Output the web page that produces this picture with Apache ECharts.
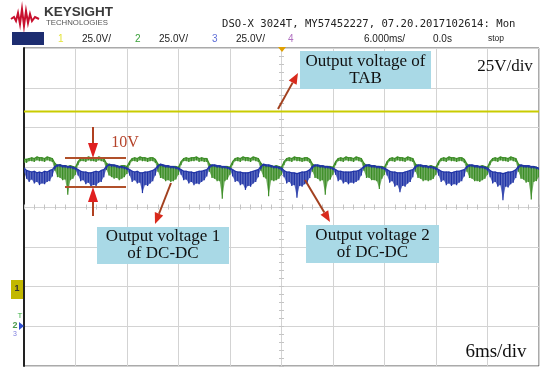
<!DOCTYPE html>
<html><head><meta charset="utf-8">
<script src="https://cdn.jsdelivr.net/npm/echarts@6/dist/echarts.min.js"></script>
<style>html,body{margin:0;padding:0;background:#fff}#c{width:550px;height:378px}</style>
</head><body><div id="c"></div>
<script>
// ---- data (volts) ----
const SAMPLE_MS = 0.3;      // sample spacing of the ch2/ch3 peak-detect envelopes
const CH1_SAMPLE_MS = 6;    // sample spacing for ch1
const CH1_OFFSET = 50;      // ground reference of ch1 on screen (V)
const CH2_OFFSET = 26;      // ground reference of ch2 on screen (V)
const CH3_OFFSET = 25;      // ground reference of ch3 on screen (V)
const timeDivs = [0, 6, 12, 18, 24, 30, 36, 42, 48, 54, 60];
const voltDivs = [0, 25, 50, 75, 100, 125, 150, 175, 200];

const ch1TAB = [110, 110, 110, 110, 110, 110, 110, 110, 110, 110, 110];

// ch2: output voltage 1 of DC-DC (upper / lower envelope)
const ch2Upper = [
  104, 104, 104.5, 105, 104.5, 105.5, 105, 105, 104.5, 105.5, 105, 104.5, 101.5, 100, 100.5, 99.5, 100, 99.5, 100, 99.5,
  99, 102.5, 104.5, 105, 104.5, 105.5, 105, 105, 104.5, 105.5, 105, 104.5, 101.5, 100.5, 100.5, 100, 100, 99.5, 100, 100,
  99.5, 102.5, 104.5, 105, 104.5, 105.5, 105, 105, 104.5, 105, 105, 104, 101, 100, 100, 99.5, 99.5, 99, 99.5, 99.5,
  99, 102.5, 104.5, 105, 104.5, 105, 105, 105.5, 104.5, 105, 104.5, 104.5, 101, 100, 100, 99.5, 99.5, 99, 99.5, 99.5,
  99, 102.5, 104.5, 105, 104.5, 105.5, 105, 105, 104.5, 105.5, 105, 104.5, 101.5, 100, 100, 99.5, 100, 99.5, 100, 99.5,
  99, 102.5, 104.5, 105, 104.5, 105.5, 105, 105, 104.5, 105, 105, 104, 101, 100, 100, 99.5, 99.5, 99.5, 99.5, 99.5,
  99, 102.5, 104.5, 105, 104.5, 105.5, 105, 105, 104.5, 105.5, 105, 104.5, 101.5, 100, 100.5, 99.5, 100, 99.5, 99.5, 99.5,
  99, 102.5, 104.5, 105, 104.5, 105.5, 105, 105, 104.5, 105.5, 105, 104.5, 101, 100, 100, 99.5, 100, 99.5, 100, 99.5,
  99, 102.5, 104.5, 105, 104.5, 105.5, 105, 105, 104.5, 105, 105, 104, 101, 100, 100, 99.5, 99.5, 99.5, 100, 99.5,
  99, 102.5, 104.5, 105, 104.5, 105.5, 105, 105, 104.5, 105.5, 105, 104.5, 101, 100, 100, 99.5, 99.5, 99, 99.5, 99,
  98
];
const ch2Lower = [
  102, 102, 103, 103, 102.5, 103.5, 103, 103, 102.5, 103.5, 103, 102.5, 97, 93, 92.5, 91, 91.5, 82, 91, 92,
  94.5, 100.5, 103, 103, 102.5, 103.5, 103, 103, 102.5, 103.5, 103, 102.5, 97.5, 94, 93, 92, 92.5, 91, 92, 93,
  95, 100.5, 103, 103, 102.5, 103.5, 103, 103, 102.5, 103, 103, 102, 96.5, 92.5, 92, 90.5, 91, 90, 90.5, 91.5,
  94.5, 100.5, 103, 103, 102.5, 103, 103, 103.5, 102.5, 103, 102.5, 102.5, 96.5, 92.5, 92, 90.5, 90.5, 79.5, 90.5, 91.5,
  94.5, 100.5, 103, 103, 102.5, 103.5, 103, 103, 102.5, 103.5, 103, 102.5, 97, 93, 92, 81, 91, 90.5, 91, 92,
  94.5, 100.5, 103, 103, 102.5, 103.5, 103, 103, 102.5, 103, 103, 102, 96.5, 92.5, 92, 90.5, 91, 82, 90.5, 91.5,
  94.5, 100.5, 103, 103, 102.5, 103.5, 103, 103, 102.5, 103.5, 103, 102.5, 97, 92.5, 92.5, 91, 91, 90.5, 85.5, 92,
  94.5, 100.5, 103, 103, 102.5, 103.5, 103, 103, 102.5, 103.5, 103, 102.5, 96.5, 92.5, 92, 90.5, 91, 90.5, 91, 92,
  94.5, 100.5, 103, 103, 102.5, 103.5, 103, 103, 102.5, 103, 103, 102, 96.5, 92.5, 92, 90.5, 90.5, 90, 91, 92,
  94.5, 100.5, 103, 103, 102.5, 103.5, 103, 103, 102.5, 103.5, 103, 102.5, 96.5, 92, 91.5, 89.5, 90, 79, 90, 90.5,
  93
];

// ch3: output voltage 2 of DC-DC (upper / lower envelope)
const ch3Upper = [
  99.5, 98, 97.5, 97, 97.5, 96.5, 97, 96.5, 97.5, 97, 98, 98.5, 100.5, 101.5, 101.5, 101, 101, 100.5, 100.5, 100,
  99.5, 98.5, 97.5, 97, 97, 96.5, 96.5, 97, 97.5, 97, 98, 98.5, 100.5, 102, 101.5, 101.5, 101, 100.5, 100.5, 100,
  99.5, 98.5, 97.5, 97, 97.5, 96.5, 96.5, 97, 97, 97.5, 98, 99, 101, 102, 101.5, 101, 101, 100.5, 100.5, 100,
  99.5, 98.5, 97.5, 97.5, 97, 97, 96.5, 97, 97.5, 97.5, 98, 98.5, 100.5, 101.5, 101.5, 101, 101, 100.5, 100.5, 100,
  99.5, 98.5, 97.5, 97, 97, 96.5, 96.5, 96.5, 97, 97.5, 98, 98.5, 100.5, 102, 101.5, 101.5, 101, 100.5, 100.5, 100,
  99.5, 98, 97, 97, 96.5, 96.5, 96, 96.5, 97, 97, 97.5, 98.5, 100.5, 101.5, 101.5, 101, 101, 100.5, 100.5, 100,
  99.5, 98.5, 97.5, 97.5, 97, 97, 97, 97, 97.5, 97.5, 98, 99, 100.5, 101.5, 101.5, 101, 101, 100.5, 100.5, 100,
  99.5, 98.5, 97.5, 97, 97, 96.5, 96.5, 96.5, 97, 97.5, 98, 98.5, 100.5, 101.5, 101.5, 101, 101, 100.5, 100.5, 100,
  99.5, 98.5, 97.5, 97, 97, 97, 96.5, 97, 97.5, 97.5, 98, 98.5, 100.5, 101.5, 101.5, 101, 101, 100.5, 100.5, 100,
  99.5, 98, 97, 97, 96.5, 96.5, 96, 96.5, 97, 97, 97.5, 98.5, 100.5, 101.5, 101, 101, 101, 100.5, 100.5, 100,
  99.5
];
const ch3Lower = [
  97, 93, 91, 92.5, 90, 91, 89, 90, 89.5, 91, 91.5, 94.5, 99, 100.5, 100.5, 100, 100, 99.5, 99.5, 99,
  98.5, 95, 91.5, 92, 89.5, 90.5, 88, 89, 88.5, 90.5, 91, 94, 99, 101, 100.5, 100.5, 100, 99.5, 99.5, 99,
  98.5, 95, 91, 92, 90, 90.5, 84, 89, 88.5, 90, 91.5, 95, 99.5, 101, 100.5, 100, 100, 99.5, 99.5, 99,
  98.5, 95.5, 92, 92.5, 90, 91, 89, 90, 89.5, 91, 92, 94.5, 99, 100.5, 100.5, 100, 100, 99.5, 99.5, 99,
  98.5, 94.5, 91, 91.5, 89, 89.5, 86, 88.5, 88, 90, 91, 94, 99, 101, 100.5, 100.5, 100, 99.5, 99.5, 99,
  98, 94, 90, 91, 88.5, 89, 81, 88.5, 88, 89.5, 90.5, 93.5, 99, 100.5, 100.5, 100, 100, 99.5, 99.5, 99,
  98.5, 95.5, 91.5, 92.5, 90, 91, 89.5, 90.5, 90, 91, 92, 95, 99.5, 100.5, 100.5, 100, 100, 99.5, 99.5, 99,
  98.5, 95, 90.5, 91.5, 88, 89, 84.5, 88.5, 88, 90, 91, 94, 99, 100.5, 100.5, 100, 100, 99.5, 99.5, 99,
  98.5, 95, 91, 92, 89, 90, 88.5, 89.5, 89, 90.5, 91.5, 94.5, 99.5, 100.5, 100.5, 100, 100, 99.5, 99.5, 99,
  98, 94, 90, 91, 88, 89, 79.5, 88, 87.5, 89.5, 90.5, 93.5, 99, 100.5, 100, 100, 100, 99.5, 99.5, 99,
  98.5
];

const headerTitle = 'DSO-X 3024T, MY57452227, 07.20.2017102614: Mon';
const channelScales = ['25.0V/', '25.0V/', '25.0V/'];
const timeScale = '6.000ms/';
const delayText = '0.0s';

// ---- chart ----
const chart = echarts.init(document.getElementById('c'), null, {renderer: 'canvas'});
const SERIF = '"Liberation Serif","Times New Roman",serif';
const SANS = '"Liberation Sans",Arial,sans-serif';

// oscilloscope-like peak-detect trace: envelope fill, vertical noise strokes, solid top edge
function envelopeSeries(name, upper, lower, offset, color, light, z) {
  const data = upper.map((u, i) => [i * SAMPLE_MS, u + offset, lower[i] + offset]);
  return {
    name: name, type: 'custom', z: z, clip: true,
    data: data,
    encode: {x: 0, y: [1, 2]},
    renderItem: function (params, api) {
      const i = params.dataIndex;
      const a = data[i];
      const top = api.coord([a[0], a[1]]), bot = api.coord([a[0], a[2]]);
      const children = [{type: 'line', shape: {x1: top[0], y1: top[1] - 0.4, x2: bot[0], y2: bot[1] + 0.4},
        style: {stroke: color, lineWidth: 1.2}}];
      if (i < data.length - 1) {
        const b = data[i + 1];
        const p2 = api.coord([b[0], b[1]]), p3 = api.coord([b[0], b[2]]);
        children.unshift({type: 'polygon', shape: {points: [top, p2, p3, bot]}, style: {fill: light}});
        children.push({type: 'line', shape: {x1: top[0], y1: top[1], x2: p2[0], y2: p2[1]},
          style: {stroke: color, lineWidth: 1.2}});
      }
      return {type: 'group', children: children};
    }
  };
}

function arrow(x1, y1, x2, y2, lineColor, headColor, L, W, lw) {
  const a = Math.atan2(y2 - y1, x2 - x1), c = Math.cos(a), s = Math.sin(a);
  const bx = x2 - L * c, by = y2 - L * s, px = -s * W, py = c * W;
  return [
    {type: 'line', z: 20, shape: {x1: x1, y1: y1, x2: bx, y2: by}, style: {stroke: lineColor, lineWidth: lw}},
    {type: 'polygon', z: 21, shape: {points: [[x2, y2], [bx + px, by + py], [bx - px, by - py]]}, style: {fill: headColor}}
  ];
}
function box(x, y, w, h, lines) {
  const els = [{type: 'rect', z: 20, shape: {x: x, y: y, width: w, height: h}, style: {fill: '#a9d9e6'}}];
  const lh = 17, cy = y + h / 2 - (lines.length - 1) * lh / 2;
  lines.forEach((t, i) => els.push({type: 'text', z: 21, x: x + w / 2, y: cy + i * lh,
    style: {text: t, fill: '#111', font: '17px ' + SERIF, textAlign: 'center', textVerticalAlign: 'middle'}}));
  return els;
}
function txt(x, y, t, color, font, align) {
  return {type: 'text', z: 20, x: x, y: y, style: {text: t, fill: color, font: font, textAlign: align || 'left', textVerticalAlign: 'middle'}};
}

const ARROW_LINE = '#a2401f', ARROW_HEAD = '#d92a1c';
const graphics = [].concat(
  [{type: 'polyline', z: 20, shape: {points: [[11,19],[14,17],[16,21],[18,13],[20,24],[22,9],[24,26],[26,11],[28,23],[30,14],[32,21],[35,17],[39,19]]},
    style: {stroke: '#c8102e', lineWidth: 2, fill: null}}],
  [txt(44, 12, 'KEYSIGHT', '#3a3a3a', 'bold 13.5px ' + SANS)],
  [txt(46, 22.5, 'TECHNOLOGIES', '#555', '7.8px ' + SANS)],
  [txt(222, 24, headerTitle, '#222', '10.6px "DejaVu Sans Mono",monospace')],
  [{type: 'rect', z: 20, shape: {x: 12, y: 32, width: 32, height: 13}, style: {fill: '#1d2d70'}}],
  [txt(58, 39, '1', '#e4e43a', '10px ' + SANS), txt(82, 39, channelScales[0], '#222', '10px ' + SANS),
   txt(135, 39, '2', '#3aa03a', '10px ' + SANS), txt(159, 39, channelScales[1], '#222', '10px ' + SANS),
   txt(212, 39, '3', '#6070d8', '10px ' + SANS), txt(236, 39, channelScales[2], '#222', '10px ' + SANS),
   txt(288, 39, '4', '#b070c0', '10px ' + SANS), txt(364, 39, timeScale, '#222', '10px ' + SANS),
   txt(433, 39, delayText, '#222', '10px ' + SANS), txt(488, 39, 'stop', '#222', '8.5px ' + SANS)],
  [{type: 'polygon', z: 22, shape: {points: [[278, 47], [286, 47], [282, 52]]}, style: {fill: '#e0a000'}}],
  [{type: 'rect', z: 20, shape: {x: 11, y: 280, width: 12, height: 19}, style: {fill: '#c2b800'}},
   txt(17, 289, '1', '#333', 'bold 9px ' + SANS, 'center'),
   txt(20, 316, 'T', '#3cb043', '8px ' + SANS, 'center'),
   txt(15, 326, '2', '#4a9a4a', 'bold 9px ' + SANS, 'center'),
   {type: 'polygon', z: 21, shape: {points: [[19, 322], [24, 326], [19, 330]]}, style: {fill: '#3050d0'}},
   txt(15, 334, '3', '#8080e0', '7px ' + SANS, 'center')],
  box(300, 51, 131, 38, ['Output voltage of', 'TAB']),
  box(97, 227, 132, 37, ['Output voltage 1', 'of DC-DC']),
  box(306, 225, 133, 38, ['Output voltage 2', 'of DC-DC']),
  [txt(505, 67, '25V/div', '#111', '17px ' + SERIF, 'center'),
   txt(496, 352, '6ms/div', '#111', '19px ' + SERIF, 'center'),
   txt(125, 143, '10V', '#b5432a', '16px ' + SERIF, 'center')],
  [{type: 'line', z: 20, shape: {x1: 65, y1: 158, x2: 126, y2: 158}, style: {stroke: '#b0502a', lineWidth: 2}},
   {type: 'line', z: 20, shape: {x1: 65, y1: 187, x2: 126, y2: 187}, style: {stroke: '#b0502a', lineWidth: 2}}],
  arrow(93, 127, 93, 158, '#b04020', '#e02020', 15, 5, 2),
  arrow(93, 216, 93, 187, '#b04020', '#e02020', 15, 5, 2),
  arrow(278, 109, 298, 73, ARROW_LINE, ARROW_HEAD, 11, 4.5, 2),
  arrow(171, 183, 155, 224, ARROW_LINE, ARROW_HEAD, 11, 4.5, 2),
  arrow(305, 180, 330, 222, ARROW_LINE, ARROW_HEAD, 11, 4.5, 2)
);

const hiddenAxis = {axisLabel: {show: false}, splitLine: {show: false}};
const tickStyle = {show: true, length: 2.5, lineStyle: {color: '#c4c4c4'}};
const option = {
  animation: false,
  backgroundColor: '#fff',
  grid: {left: 24, top: 48, width: 515, height: 318, show: true, borderColor: '#555', borderWidth: 1, backgroundColor: '#fff'},
  xAxis: [
    {type: 'value', min: timeDivs[0], max: timeDivs[timeDivs.length - 1], interval: timeDivs[1] - timeDivs[0],
     axisLine: {show: false}, axisTick: {show: false}, axisLabel: {show: false},
     splitLine: {show: true, lineStyle: {color: '#d3d3d3', width: 1}}},
    Object.assign({type: 'value', position: 'bottom', offset: -159, min: 0, max: 60, interval: 1.2,
     axisLine: {show: false}, axisTick: tickStyle}, hiddenAxis),
    Object.assign({type: 'value', position: 'top', offset: -159, min: 0, max: 60, interval: 1.2,
     axisLine: {show: false}, axisTick: tickStyle}, hiddenAxis)
  ],
  yAxis: [
    {type: 'value', min: voltDivs[0], max: voltDivs[voltDivs.length - 1], interval: voltDivs[1] - voltDivs[0],
     axisLine: {show: true, lineStyle: {color: '#222', width: 2}}, axisTick: {show: false}, axisLabel: {show: false},
     splitLine: {show: true, lineStyle: {color: '#d3d3d3', width: 1}}},
    Object.assign({type: 'value', position: 'left', offset: -257.5, min: 0, max: 200, interval: 5,
     axisLine: {show: false}, axisTick: tickStyle}, hiddenAxis),
    Object.assign({type: 'value', position: 'right', offset: -257.5, min: 0, max: 200, interval: 5,
     axisLine: {show: false}, axisTick: tickStyle}, hiddenAxis)
  ],
  series: [
    {name: 'TAB', type: 'line', showSymbol: false, data: ch1TAB.map((v, i) => [i * CH1_SAMPLE_MS, v + CH1_OFFSET]),
     lineStyle: {color: '#c9cc00', width: 2}, z: 3},
    envelopeSeries('DC-DC 1', ch2Upper, ch2Lower, CH2_OFFSET, '#3a8c24', 'rgba(58,140,36,0.72)', 4),
    envelopeSeries('DC-DC 2', ch3Upper, ch3Lower, CH3_OFFSET, '#1f33a6', 'rgba(31,51,166,0.72)', 5)
  ],
  graphic: graphics
};
chart.setOption(option);
</script></body></html>
